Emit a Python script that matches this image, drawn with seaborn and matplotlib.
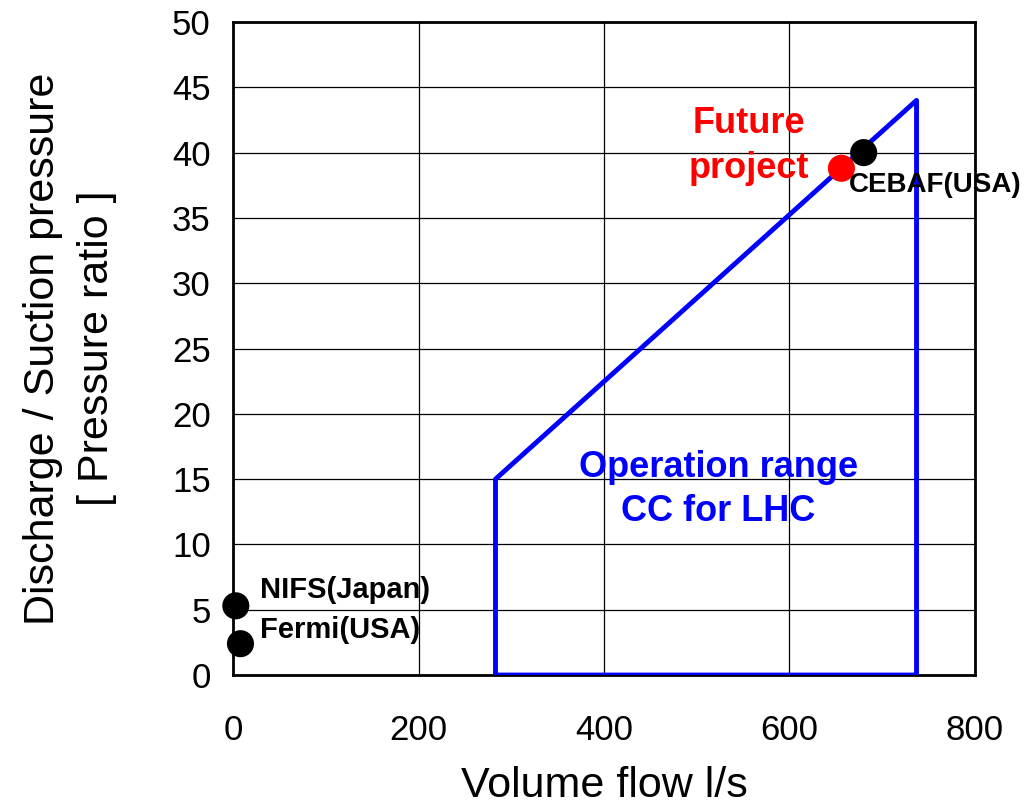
import matplotlib
matplotlib.use("Agg")
import matplotlib.pyplot as plt
import seaborn as sns
import pandas as pd

# === data ===
range_flow = [283, 283, 737, 737, 283]      # operation range outline, l/s
range_ratio = [0, 15, 44, 0, 0]             # pressure ratio
plant_names = ["NIFS(Japan)", "Fermi(USA)", "CEBAF(USA)"]
plant_flow = [3, 8, 680]
plant_ratio = [5.3, 2.4, 40.0]
future_flow = [656]
future_ratio = [38.8]

sns.set_theme(style="white")
plt.rcParams["font.family"] = ["Liberation Sans", "DejaVu Sans"]
plt.rcParams["text.color"] = "black"
plt.rcParams["axes.labelcolor"] = "black"
plt.rcParams["xtick.color"] = "black"
plt.rcParams["ytick.color"] = "black"

fig = plt.figure(figsize=(10.28, 8.09), dpi=100)
ax = fig.add_axes([0.2267, 0.1656, 0.7217, 0.8072])

rng = pd.DataFrame({"flow": range_flow, "ratio": range_ratio})
ax.plot(rng["flow"], rng["ratio"], color="#0000ff", lw=3.5, zorder=3)

plants = pd.DataFrame({"flow": plant_flow, "ratio": plant_ratio, "name": plant_names})
sns.scatterplot(data=plants, x="flow", y="ratio", color="black", s=380,
                edgecolor="none", ax=ax, zorder=4, clip_on=False)
sns.scatterplot(x=future_flow, y=future_ratio, color="#ff0000", s=380,
                edgecolor="none", ax=ax, zorder=5, clip_on=False)

ax.text(29, 6.5, "NIFS(Japan)", fontsize=21, fontweight="bold", va="center", ha="left")
ax.text(29, 3.45, "Fermi(USA)", fontsize=21, fontweight="bold", va="center", ha="left")
ax.text(664, 37.5, "CEBAF(USA)", fontsize=20, fontweight="bold", va="center", ha="left",
        clip_on=False, zorder=6)
ax.text(556, 40.5, "Future\nproject", fontsize=26, fontweight="bold", color="#ff0000",
        ha="center", va="center", linespacing=1.4)
ax.text(523, 14.2, "Operation range\nCC for LHC", fontsize=26, fontweight="bold",
        color="#0000ff", ha="center", va="center", linespacing=1.35)

ax.set_xlim(0, 800)
ax.set_ylim(0, 50)
ax.set_xticks(range(0, 801, 200))
ax.set_yticks(range(0, 51, 5))
ax.grid(True, color="black", lw=0.9)
ax.tick_params(axis="x", labelsize=25, length=0, pad=28)
ax.tick_params(axis="y", labelsize=25, length=0, pad=16)
for sp in ax.spines.values():
    sp.set_color("black")
    sp.set_linewidth(2)
ax.set_xlabel("Volume flow l/s", fontsize=31, labelpad=14)
ax.set_ylabel("Discharge / Suction pressure\n[ Pressure ratio ]", fontsize=31,
              labelpad=40, linespacing=1.45)

fig.savefig("out.png", dpi=100)
